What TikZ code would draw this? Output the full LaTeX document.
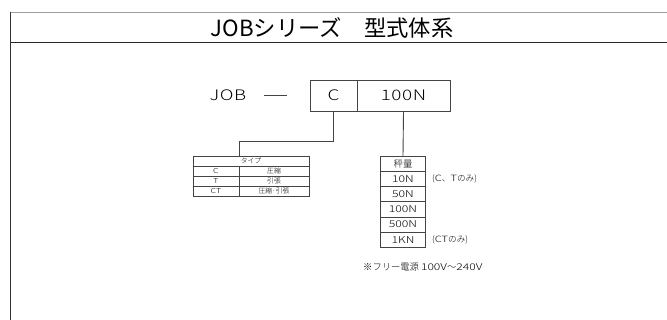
\documentclass[tikz,border=0pt]{standalone}
\usepackage{fontspec}
\setmainfont{Noto Sans CJK JP}
\newfontfamily\wide[FakeStretch=1.3]{Noto Sans CJK JP Light}
\newfontfamily\lite{Noto Sans CJK JP Light}
\definecolor{ln}{HTML}{444444}
\begin{document}
\begin{tikzpicture}[x=1pt,y=-1pt,
  box/.style={draw=ln,line width=0.9pt,minimum height=31pt,inner sep=0pt,
    font=\fontsize{14.5}{14.5}\wide\addfontfeature{LetterSpace=4}},
  cell/.style={draw=ln,line width=0.6pt,minimum height=10pt,inner sep=0pt,
    font=\fontsize{6.8}{6.8}\lite},
  rcell/.style={draw=ln,line width=0.9pt,minimum height=15.1pt,minimum width=44.3pt,inner sep=0pt,
    font=\fontsize{9.4}{9.4}\lite},
  note/.style={anchor=west,inner sep=0pt,font=\fontsize{8.6}{8.6}\lite},
  conn/.style={draw=ln,line width=0.9pt}]
\useasboundingbox (0,0) rectangle (667,320);
% frame
\draw[gray!75,line width=0.8pt] (10.5,12.5) -- (667,12.5);
\draw[black!85,line width=1.2pt] (10.5,42.5) -- (667,42.5);
\draw[black!80,line width=1.1pt] (10.5,12) -- (10.5,320);
\node[inner sep=0pt] (title) at (332,27.5) {\fontsize{22.3}{22.3}\selectfont JOBシリーズ\hspace{1em}型式体系};
% model code
\node[inner sep=0pt,font=\fontsize{14.5}{14.5}\wide\addfontfeature{LetterSpace=4}] (job) at (228,95.5) {JOB};
\node[inner sep=0pt] (dash) at (275,95) {\color{ln}\rule{23pt}{0.9pt}};
\node[box,minimum width=47pt] (cbox) at (333.5,95.5) {C};
\node[box,minimum width=93pt] (nbox) at (403.5,95.5) {100N};
% type table
\node[cell,minimum width=116pt] (thead) at (251,161) {タイプ};
\node[cell,minimum width=46pt] (tc1) at (216,171) {\wide C};
\node[cell,minimum width=70pt] (tc2) at (274,171) {圧縮};
\node[cell,minimum width=46pt] (tt1) at (216,181) {\wide T};
\node[cell,minimum width=70pt] (tt2) at (274,181) {引張};
\node[cell,minimum width=46pt] (tx1) at (216,191) {\wide CT};
\node[cell,minimum width=70pt] (tx2) at (274,191) {圧縮·引張};
% capacity table
\node[rcell] (r0) at (403,164.2) {秤量};
\node[rcell] (r1) at (403,179.3) {\wide 10N};
\node[rcell] (r2) at (403,194.4) {\wide 50N};
\node[rcell] (r3) at (403,209.5) {\wide 100N};
\node[rcell] (r4) at (403,224.6) {\wide 500N};
\node[rcell] (r5) at (403,239.7) {\wide 1KN};
\node[note] (n1) at (432,179.3) {({\wide C}、{\wide T}のみ)};
\node[note] (n2) at (432,239.7) {({\wide CT}のみ)};
\node[note,font=\fontsize{9.3}{9.3}\lite] (n3) at (363,267) {※フリー電源 {\wide 100V}〜{\wide 240V}};
% connectors
\draw[conn] (cbox.south) -- ++(0,30) -| (thead.north -| tc1.east);
\draw[conn] (nbox.south) -- (r0.north);
\end{tikzpicture}
\end{document}
